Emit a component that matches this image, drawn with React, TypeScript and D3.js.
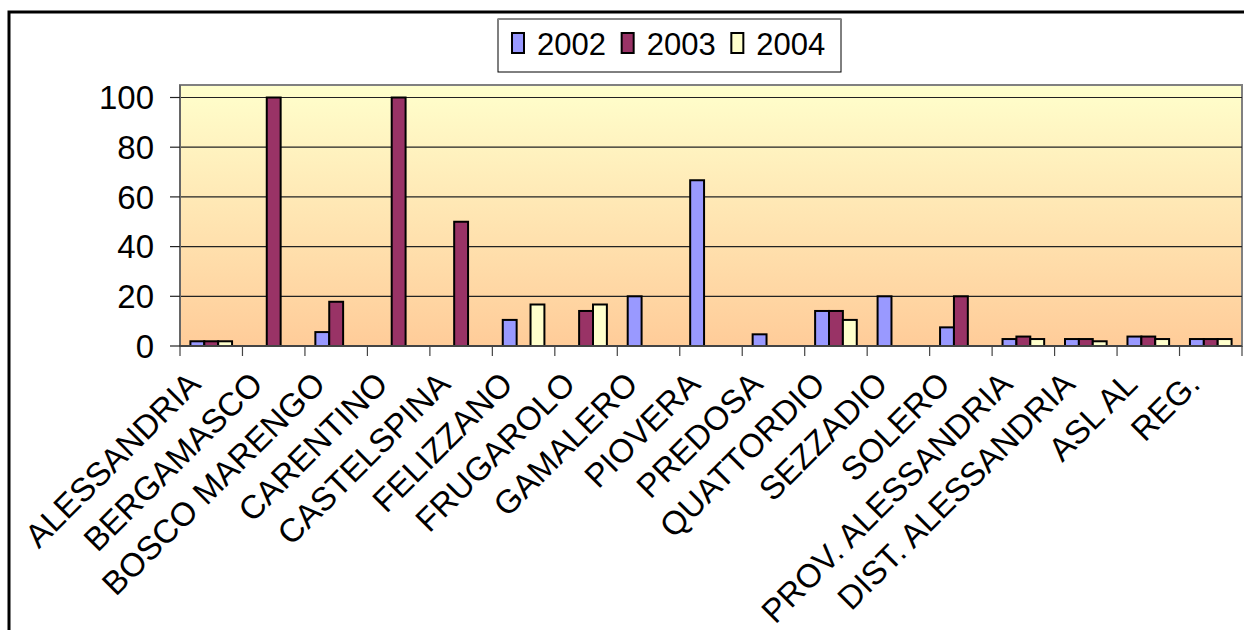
import { useEffect, useRef } from "react";
import * as d3 from "d3";

const categories = [
  "ALESSANDRIA",
  "BERGAMASCO",
  "BOSCO MARENGO",
  "CARENTINO",
  "CASTELSPINA",
  "FELIZZANO",
  "FRUGAROLO",
  "GAMALERO",
  "PIOVERA",
  "PREDOSA",
  "QUATTORDIO",
  "SEZZADIO",
  "SOLERO",
  "PROV. ALESSANDRIA",
  "DIST. ALESSANDRIA",
  "ASL AL",
  "REG.",
];

const years = ["2002", "2003", "2004"];

const values2002 = [1.9, 0, 5.6, 0, 0, 10.5, 0, 20, 66.7, 4.7, 14.1, 20, 7.5, 2.8, 2.8, 3.8, 2.8];
const values2003 = [1.9, 100, 17.8, 100, 50, 0, 14.1, 0, 0, 0, 14.1, 0, 20, 3.8, 2.8, 3.8, 2.8];
const values2004 = [1.9, 0, 0, 0, 0, 16.7, 16.7, 0, 0, 0, 10.5, 0, 0, 2.8, 1.9, 2.8, 2.8];

const yTicks = [0, 20, 40, 60, 80, 100];

const colors = ["#9999FF", "#993366", "#FFFFCC"];

export default function App() {
  const svgRef = useRef<SVGSVGElement | null>(null);

  useEffect(() => {
    if (!svgRef.current) return;
    const width = 1244;
    const height = 630;
    const plot = { left: 180, right: 1242, top: 85, bottom: 346 };
    const font = "'Liberation Sans', Arial, sans-serif";

    const svg = d3.select(svgRef.current);
    svg.selectAll("*").remove();
    svg.attr("width", width).attr("height", height);

    // background + outer frame
    svg.append("rect").attr("width", width).attr("height", height).attr("fill", "#fff");
    svg
      .append("rect")
      .attr("x", 9)
      .attr("y", 12)
      .attr("width", width + 20)
      .attr("height", height + 20)
      .attr("fill", "none")
      .attr("stroke", "#000")
      .attr("stroke-width", 3);

    const x = d3
      .scaleBand<string>()
      .domain(categories)
      .range([plot.left, plot.right])
      .padding(0);

    const xs = d3
      .scaleBand<string>()
      .domain(years)
      .range([0, x.bandwidth()])
      .paddingInner(0)
      .paddingOuter(0.75);

    const y = d3.scaleLinear().domain([0, 100]).range([plot.bottom, 97.5]);

    // plot area gradient
    const defs = svg.append("defs");
    const grad = defs
      .append("linearGradient")
      .attr("id", "bg")
      .attr("x1", 0)
      .attr("y1", 0)
      .attr("x2", 0)
      .attr("y2", 1);
    grad.append("stop").attr("offset", "0%").attr("stop-color", "#FFFFCC");
    grad.append("stop").attr("offset", "100%").attr("stop-color", "#FFCC99");

    svg
      .append("rect")
      .attr("x", plot.left)
      .attr("y", plot.top)
      .attr("width", plot.right - plot.left)
      .attr("height", plot.bottom - plot.top)
      .attr("fill", "url(#bg)")
      .attr("stroke", "#808080")
      .attr("stroke-width", 2);

    // gridlines
    svg
      .append("g")
      .selectAll("line")
      .data(yTicks.filter((t) => t > 0))
      .join("line")
      .attr("x1", plot.left)
      .attr("x2", plot.right)
      .attr("y1", (d) => y(d))
      .attr("y2", (d) => y(d))
      .attr("stroke", "#222")
      .attr("stroke-width", 1.2);

    // bars
    const series = [values2002, values2003, values2004];
    const barData = categories
      .flatMap((c, i) => years.map((yr, k) => ({ c, yr, k, v: series[k][i] })))
      .filter((d) => d.v > 0);

    svg
      .append("g")
      .selectAll("rect")
      .data(barData)
      .join("rect")
      .attr("x", (d) => x(d.c)! + xs(d.yr)!)
      .attr("y", (d) => y(d.v))
      .attr("width", xs.bandwidth())
      .attr("height", (d) => y(0) - y(d.v))
      .attr("fill", (d) => colors[d.k])
      .attr("stroke", "#000")
      .attr("stroke-width", 2);

    // y axis
    const yAxis = svg.append("g");
    yAxis
      .append("line")
      .attr("x1", plot.left)
      .attr("x2", plot.left)
      .attr("y1", plot.top)
      .attr("y2", plot.bottom)
      .attr("stroke", "#666")
      .attr("stroke-width", 2);
    yAxis
      .selectAll("line.tick")
      .data(yTicks)
      .join("line")
      .attr("class", "tick")
      .attr("x1", plot.left - 10)
      .attr("x2", plot.left)
      .attr("y1", (d) => y(d))
      .attr("y2", (d) => y(d))
      .attr("stroke", "#222")
      .attr("stroke-width", 1.2);
    yAxis
      .selectAll("text")
      .data(yTicks)
      .join("text")
      .attr("x", 154)
      .attr("y", (d) => y(d))
      .attr("dy", "0.36em")
      .attr("text-anchor", "end")
      .attr("font-family", font)
      .attr("font-size", 33)
      .attr("fill", "#000")
      .text((d) => String(d));

    // x axis
    const xAxis = svg.append("g");
    xAxis
      .append("line")
      .attr("x1", plot.left)
      .attr("x2", plot.right)
      .attr("y1", plot.bottom)
      .attr("y2", plot.bottom)
      .attr("stroke", "#444")
      .attr("stroke-width", 2);
    const edges = categories.map((c) => x(c)!).concat([plot.right]);
    xAxis
      .selectAll("line.tick")
      .data(edges)
      .join("line")
      .attr("class", "tick")
      .attr("x1", (d) => d)
      .attr("x2", (d) => d)
      .attr("y1", plot.bottom)
      .attr("y2", plot.bottom + 10)
      .attr("stroke", "#444")
      .attr("stroke-width", 1.2);
    xAxis
      .selectAll("text")
      .data(categories)
      .join("text")
      .attr("transform", (d) => {
        const cx = x(d)! + x.bandwidth() / 2 - 9;
        return `translate(${cx},${plot.bottom + 40}) rotate(-45)`;
      })
      .attr("text-anchor", "end")
      .attr("font-family", font)
      .attr("font-size", 33)
      .attr("fill", "#000")
      .text((d) => d);

    // legend
    const lg = svg.append("g");
    lg.append("rect")
      .attr("x", 498)
      .attr("y", 19)
      .attr("width", 343)
      .attr("height", 53)
      .attr("fill", "#fff")
      .attr("stroke", "#000")
      .attr("stroke-width", 1);
    lg.append("line")
      .attr("x1", 498)
      .attr("x2", 841)
      .attr("y1", 19)
      .attr("y2", 19)
      .attr("stroke", "#888")
      .attr("stroke-width", 2);
    const legendX = d3.scaleBand<string>().domain(years).range([512, 841]);
    const items = lg
      .selectAll("g.item")
      .data(years)
      .join("g")
      .attr("class", "item")
      .attr("transform", (d) => `translate(${legendX(d)},0)`);
    items
      .append("rect")
      .attr("x", 0)
      .attr("y", 33)
      .attr("width", 12)
      .attr("height", 20)
      .attr("fill", (_, i) => colors[i])
      .attr("stroke", "#000")
      .attr("stroke-width", 2);
    items
      .append("text")
      .attr("x", 25)
      .attr("y", 55)
      .attr("font-family", font)
      .attr("font-size", 31)
      .attr("fill", "#000")
      .text((d) => d);
  }, []);

  return (
    <svg
      ref={svgRef}
      style={{ position: "absolute", left: 0, top: 0, display: "block" }}
    />
  );
}
